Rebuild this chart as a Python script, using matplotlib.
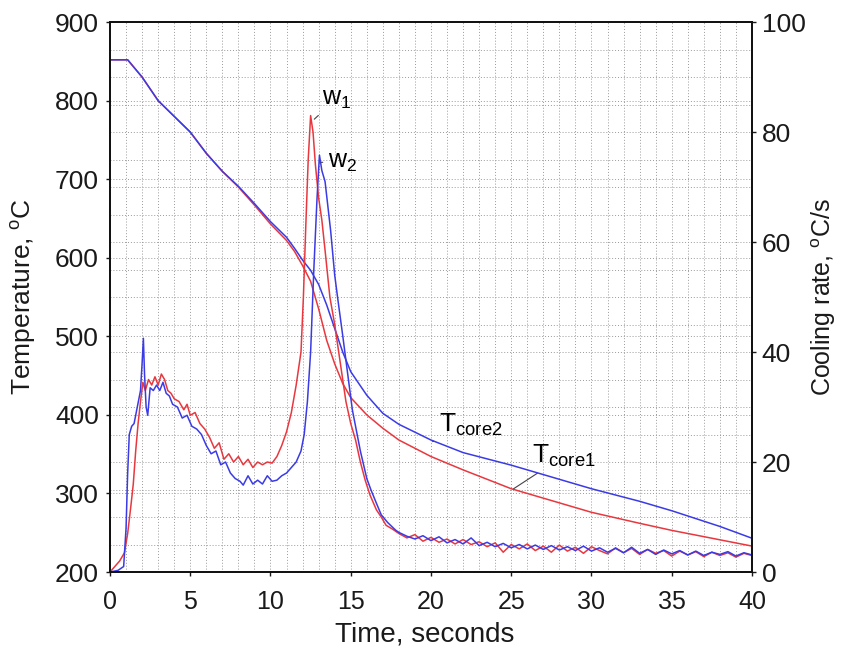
import matplotlib
matplotlib.use('Agg')
import matplotlib.pyplot as plt
from matplotlib.ticker import MultipleLocator, FixedLocator

plt.rcParams['font.family'] = ['Liberation Sans', 'DejaVu Sans']
plt.rcParams['mathtext.fontset'] = 'custom'
plt.rcParams['mathtext.rm'] = 'Liberation Sans'
plt.rcParams['mathtext.it'] = 'Liberation Sans:italic'

# core temperatures (left axis)
t_core = [0, 1.1, 2, 3, 4, 5, 6, 7, 8, 9, 10, 11, 11.5, 12, 12.5, 13, 13.5, 14, 14.5,
          15, 16, 17, 18, 20, 22, 25, 28, 30, 33, 35, 38, 40]
t_core1 = [852, 852, 830, 800, 780, 760, 733, 710, 690, 667, 643, 622, 608, 590, 570, 535,
           495, 465, 440, 422, 400, 383, 368, 347, 330, 306, 288, 276, 262, 253, 241, 233]
t_core2 = [852, 852, 830, 800, 780, 760, 733, 710, 691, 669, 646, 626, 612, 597, 584, 566,
           540, 510, 480, 455, 425, 402, 388, 368, 352, 336, 318, 306, 290, 278, 258, 243]

# cooling rates (right axis)
t_w1 = [0.0, 0.3, 0.6, 0.9, 1.1, 1.3, 1.45, 1.6, 1.75, 1.9, 2.05, 2.2, 2.4, 2.6, 2.8, 3.0,
        3.2, 3.4, 3.6, 3.8, 4.0, 4.3, 4.6, 4.8, 5.0, 5.3, 5.6, 5.9, 6.2, 6.5, 6.8, 7.1, 7.4,
        7.7, 8.0, 8.3, 8.6, 8.9, 9.2, 9.5, 9.8, 10.1, 10.4, 10.7, 11.0, 11.3, 11.6, 11.9,
        12.05, 12.2, 12.35, 12.5, 12.65, 12.8, 13.0, 13.2, 13.4, 13.7, 14.0, 14.3, 14.7,
        15.0, 15.3, 15.6, 15.9, 16.2, 16.6, 16.9, 17.2, 17.6,
        18.0, 18.5, 19.0, 19.5, 20.0, 20.5, 21.0, 21.5, 22.0, 22.5, 23.0, 23.5, 24.0, 24.5,
        25.0, 25.5, 26.0, 26.5, 27.0, 27.5, 28.0, 28.5, 29.0, 29.5, 30.0, 30.5, 31.0, 31.5,
        32.0, 32.5, 33.0, 33.5, 34.0, 34.5, 35.0, 35.5, 36.0, 36.5, 37.0, 37.5, 38.0, 38.5,
        39.0, 39.5, 40.0]
w1 = [0.0, 1.0, 2.0, 3.5, 7, 12, 16, 22, 27, 31, 34.5, 33, 35, 34, 35.5, 34,
      36, 35, 33, 32.5, 31.5, 31, 29.5, 30.5, 28.5, 29, 27, 26, 24.5, 22.5, 23.5, 20.5, 21.5,
      20, 21, 19.5, 20.5, 19, 20, 19.5, 20, 19.8, 21, 23, 25.5, 29, 34, 40,
      50, 63, 75, 83, 80, 74, 68, 64, 58.5, 50, 45, 39, 31,
      27, 24, 20, 16.7, 14, 11.3, 10, 8.5, 7.8,
      7.0, 6.2, 6.8, 5.6, 6.3, 5.4, 6.0, 5.1, 5.9, 5.0, 5.5, 4.6, 5.3, 3.6,
      5.0, 4.2, 5.1, 3.9, 4.7, 3.6, 4.9, 3.8, 4.5, 3.4, 4.6, 3.9, 3.3, 4.4,
      3.5, 4.3, 3.2, 4.1, 3.4, 3.9, 2.9, 3.8, 3.1, 3.7, 2.8, 3.6, 3.0, 3.5,
      2.7, 3.4, 3.0]

t_w2 = [0.0, 0.5, 0.85, 1.0, 1.1, 1.2, 1.35, 1.5, 1.7, 1.9, 2.0, 2.08, 2.15, 2.25, 2.35,
        2.5, 2.7, 2.9, 3.1, 3.3, 3.5, 3.7, 3.9, 4.2, 4.5, 4.8, 5.1, 5.4, 5.7, 6.0, 6.3, 6.6,
        6.9, 7.2, 7.5, 7.8, 8.1, 8.3, 8.6, 8.9, 9.2, 9.5, 9.8, 10.1, 10.4, 10.7, 11.0, 11.3,
        11.6, 11.9, 12.1, 12.3, 12.5, 12.7, 12.9, 13.05, 13.2, 13.4, 13.75, 14.0, 14.2,
        14.5, 14.7, 15.1, 15.4, 15.6, 16.0, 16.25, 16.6, 16.9, 17.3, 17.8,
        18.0, 18.5, 19.0, 19.5, 20.0, 20.5, 21.0, 21.5, 22.0, 22.5, 23.0, 23.5, 24.0, 24.5,
        25.0, 25.5, 26.0, 26.5, 27.0, 27.5, 28.0, 28.5, 29.0, 29.5, 30.0, 30.5, 31.0, 31.5,
        32.0, 32.5, 33.0, 33.5, 34.0, 34.5, 35.0, 35.5, 36.0, 36.5, 37.0, 37.5, 38.0, 38.5,
        39.0, 39.5, 40.0]
w2 = [0.0, 0.3, 1.0, 8, 18, 25, 26.5, 27, 30, 33, 38, 42.5, 36, 30, 28.5,
      33.5, 33, 34, 33, 34.5, 32.5, 32, 30.5, 30, 28, 28.5, 26.5, 26, 25, 23, 21.5, 22,
      19.5, 20, 18, 17, 16.5, 15.8, 17.5, 16, 16.7, 16, 17.5, 16.5, 16.7, 17.5, 18, 19,
      20, 22, 25, 31, 40, 55, 68, 75.8, 73, 71, 62, 54, 49.5,
      43, 38.5, 29.5, 25, 22, 17, 15, 12.5, 10.4, 9, 7.6,
      7.2, 6.5, 6.0, 6.6, 5.7, 6.4, 5.3, 5.9, 5.1, 6.2, 4.8, 5.4, 4.6, 5.2,
      4.4, 5.0, 4.2, 4.9, 4.1, 4.8, 4.0, 4.6, 3.9, 4.7, 3.8, 4.4, 3.6, 4.3,
      3.5, 4.5, 3.4, 4.1, 3.2, 4.0, 3.3, 3.9, 3.1, 3.8, 3.0, 3.6, 3.2, 3.7,
      2.9, 3.5, 3.1]

red = '#e8383f'
blue = '#3b3be6'

fig = plt.figure(figsize=(8.43, 6.5), dpi=100)
ax = fig.add_axes([0.1305, 0.12, 0.7615, 0.846])
ax2 = ax.twinx()

ax.set_xlim(0, 40)
ax.set_ylim(200, 900)
ax2.set_ylim(0, 100)

# grid: every second on x, every 5 C/s of the right axis on y
ax.xaxis.set_minor_locator(MultipleLocator(1))
ax.yaxis.set_minor_locator(FixedLocator([200 + 7 * v for v in range(0, 101, 5)]))
ax.grid(which='both', color='#9a9a9a', linestyle=(0, (1, 2)), linewidth=0.7)
ax.set_axisbelow(True)

ax.plot(t_core, t_core1, color=red, lw=1.1)
ax.plot(t_core, t_core2, color=blue, lw=1.1)
ax2.plot(t_w1, w1, color=red, lw=1.1)
ax2.plot(t_w2, w2, color=blue, lw=1.1)

ax.set_xticks(range(0, 41, 5))
ax.set_yticks(range(200, 901, 100))
ax2.set_yticks(range(0, 101, 20))
ax.tick_params(axis='x', which='major', labelsize=18, length=3, width=1,
               colors='#1a1a1a', pad=10)
ax.tick_params(axis='y', which='major', labelsize=19, length=3, width=1,
               colors='#1a1a1a', pad=5)
ax.tick_params(which='minor', length=0)
ax2.tick_params(labelsize=19, length=3, width=1, colors='#1a1a1a', pad=4)
ax2.yaxis.set_minor_locator(MultipleLocator(5))
ax2.tick_params(which='minor', length=0)
for a in (ax, ax2):
    for s in a.spines.values():
        s.set_linewidth(1.3)
        s.set_color('#111111')

ax.set_xlabel('Time, seconds', fontsize=20, color='#1a1a1a')
ax.set_ylabel('Temperature, $^{\\mathrm{o}}$C', fontsize=19, color='#1a1a1a')
ax2.set_ylabel('Cooling rate, $^{\\mathrm{o}}$C/s', fontsize=18, color='#1a1a1a')
ax.xaxis.set_label_coords(0.49, -0.09)
ax.yaxis.set_label_coords(-0.112, 0.5)
ax2.yaxis.set_label_coords(1.09, 0.5)

lead = dict(arrowstyle='-', color='#444444', lw=0.8)
ax2.annotate('w$_1$', xy=(12.6, 82), xytext=(13.2, 85), fontsize=18, arrowprops=lead)
ax2.annotate('w$_2$', xy=(13.15, 74.5), xytext=(13.6, 73.5), fontsize=18, arrowprops=lead)
ax.annotate('T$_{\\mathrm{core2}}$', xy=(20.1, 366), xytext=(20.5, 378), fontsize=19,
            arrowprops=lead)
ax.annotate('T$_{\\mathrm{core1}}$', xy=(25.0, 304), xytext=(26.3, 339), fontsize=19,
            arrowprops=lead)

plt.savefig('out.png', dpi=100)
plt.close()
